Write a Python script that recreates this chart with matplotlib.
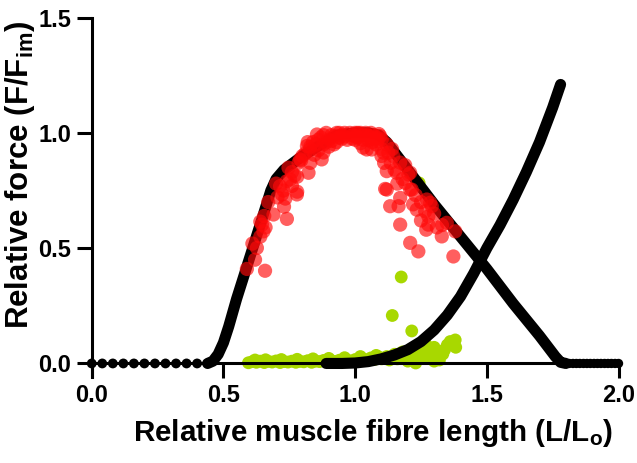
import matplotlib
matplotlib.use("Agg")
import matplotlib.pyplot as plt

plt.rcParams['font.family'] = ['Liberation Sans', 'DejaVu Sans']
plt.rcParams['font.weight'] = 'bold'
plt.rcParams['mathtext.fontset'] = 'custom'
plt.rcParams['mathtext.rm'] = 'Liberation Sans:bold'
plt.rcParams['mathtext.it'] = 'Liberation Sans:bold'
plt.rcParams['mathtext.bf'] = 'Liberation Sans:bold'

# ---- data ----
# active force-length curve (dense dots drawn as thick line)
active_x = [0.44, 0.46, 0.48, 0.50, 0.52, 0.55, 0.60, 0.65, 0.68, 0.70, 0.73, 0.80,
            0.87, 0.93, 1.00, 1.05, 1.09, 1.12, 1.20, 1.30, 1.40, 1.50, 1.60, 1.70,
            1.76, 1.78, 1.80]
active_y = [0.0, 0.01, 0.04, 0.09, 0.16, 0.28, 0.46, 0.64, 0.75, 0.80, 0.84, 0.90,
            0.95, 0.99, 1.00, 1.00, 0.99, 0.96, 0.84, 0.69, 0.55, 0.41, 0.26, 0.12,
            0.03, 0.005, 0.0]
# sparse dots on the flat parts
flat_left_x = [0.0, 0.04, 0.08, 0.12, 0.16, 0.20, 0.24, 0.28, 0.32, 0.36, 0.40, 0.44]
flat_right_x = [1.80, 1.813, 1.827, 1.84, 1.853, 1.867, 1.88, 1.893, 1.907, 1.92,
                1.933, 1.947, 1.96, 1.973, 1.987, 2.0]
# passive force-length curve
passive_x = [0.89, 0.95, 1.00, 1.05, 1.10, 1.15, 1.20, 1.25, 1.30, 1.35, 1.40, 1.45,
             1.50, 1.55, 1.60, 1.65, 1.70, 1.75, 1.78]
passive_y = [0.0, 0.0, 0.002, 0.008, 0.02, 0.037, 0.06, 0.095, 0.145, 0.21, 0.29, 0.39,
             0.50, 0.60, 0.71, 0.83, 0.96, 1.11, 1.21]

# red (active) measurements
red_x = [0.589, 0.658, 0.627, 0.652, 0.646, 0.655, 0.690, 0.741, 0.640, 0.660,
         0.715, 0.728, 0.779, 0.753, 0.747, 0.785, 0.823, 0.722, 0.735, 0.760,
         0.770, 0.740, 0.795, 0.780, 0.791, 0.829, 0.873, 0.855, 0.817, 0.840,
         0.810, 0.845,
         0.87, 0.88, 0.89, 0.90, 0.91, 0.92, 0.93, 0.94, 0.95, 0.96, 0.97, 0.98,
         0.99, 1.00, 1.01, 1.02, 1.03, 1.04, 1.05, 1.06, 1.07, 0.93, 1.02, 1.031,
         1.063, 1.044, 0.96, 1.00, 1.08, 1.09, 0.90, 1.08, 0.99,
         1.095, 1.108, 1.120, 1.114, 1.133, 1.165, 1.171, 1.209, 1.240, 1.171,
         1.145, 1.171, 1.158, 1.209, 1.234, 1.272, 1.278, 1.278, 1.329, 1.348,
         1.380, 1.373, 1.209, 1.120, 1.190, 1.215, 1.202, 1.126, 1.101, 1.266,
         1.285, 1.291, 1.135, 1.150, 1.180, 1.230, 1.250, 1.300, 1.190, 1.120,
         1.100, 1.140,
         0.82, 0.83, 0.85, 0.86, 0.88, 0.89, 0.91, 0.92, 0.94, 0.95, 1.00, 1.01,
         1.03, 1.045, 1.055, 1.065, 1.075, 1.085, 0.86, 0.88, 0.80, 0.83, 0.76,
         0.78, 0.70, 0.705, 0.73, 0.67, 0.62, 0.61, 0.64,
         1.10, 1.11, 1.16, 1.25, 1.31, 1.33, 1.22, 1.27]
red_y = [0.410, 0.402, 0.501, 0.573, 0.602, 0.640, 0.646, 0.627, 0.615, 0.590,
         0.769, 0.750, 0.733, 0.798, 0.849, 0.870, 0.827, 0.733, 0.715, 0.770,
         0.815, 0.790, 0.880, 0.745, 0.885, 0.928, 0.885, 0.993, 0.943, 0.960,
         0.910, 0.905,
         0.98, 0.95, 1.00, 0.97, 0.99, 0.95, 1.00, 0.98, 0.99, 1.00, 0.97, 1.00,
         0.99, 1.00, 0.98, 1.00, 0.99, 1.00, 0.97, 1.00, 0.99, 0.96, 0.955, 0.936,
         0.928, 0.928, 0.985, 0.985, 0.98, 0.995, 0.94, 0.95, 0.975,
         0.986, 0.914, 0.834, 0.757, 0.682, 0.682, 0.602, 0.523, 0.486, 0.718,
         0.899, 0.871, 0.827, 0.754, 0.667, 0.711, 0.638, 0.602, 0.551, 0.610,
         0.573, 0.464, 0.827, 0.754, 0.783, 0.754, 0.820, 0.914, 0.972, 0.660,
         0.697, 0.682, 0.870, 0.840, 0.800, 0.730, 0.700, 0.650, 0.860, 0.950,
         0.930, 0.930,
         0.96, 0.94, 0.95, 0.97, 0.99, 0.96, 0.965, 0.985, 1.00, 0.975, 0.97, 1.00,
         0.97, 0.99, 0.985, 0.96, 0.975, 0.965, 0.925, 0.915, 0.90, 0.87, 0.83,
         0.81, 0.78, 0.72, 0.68, 0.70, 0.45, 0.52, 0.55,
         0.90, 0.87, 0.78, 0.62, 0.59, 0.60, 0.69, 0.58]

# green (passive) measurements
green_x = [0.595, 0.61, 0.625, 0.64, 0.655, 0.67, 0.685, 0.70, 0.715, 0.73, 0.745,
           0.76, 0.775, 0.79, 0.805, 0.82, 0.835, 0.85, 0.865, 0.88, 0.895, 0.91,
           0.925, 0.94, 0.955, 0.97, 0.985, 1.0, 1.015, 1.03, 1.045, 1.06, 1.075,
           1.09,
           0.62, 0.66, 0.72, 0.78, 0.84, 0.90, 0.96, 1.02, 1.08,
           1.10, 1.12, 1.13, 1.15, 1.16, 1.18, 1.19, 1.20, 1.21, 1.22, 1.23, 1.24,
           1.25, 1.26, 1.27, 1.28, 1.285, 1.29, 1.30, 1.31, 1.333, 1.34, 1.35,
           1.361, 1.38, 1.382, 1.37, 1.32, 1.30,
           1.243, 1.175, 1.141, 1.215]
green_y = [0.003, 0.008, 0.005, 0.01, 0.004, 0.009, 0.006, 0.011, 0.004, 0.008, 0.006,
           0.01, 0.005, 0.009, 0.007, 0.012, 0.005, 0.01, 0.008, 0.013, 0.006, 0.012,
           0.009, 0.014, 0.007, 0.015, 0.01, 0.017, 0.012, 0.02, 0.015, 0.024, 0.018,
           0.028,
           0.015, 0.016, 0.017, 0.018, 0.02, 0.022, 0.025, 0.03, 0.035,
           0.02, 0.03, 0.015, 0.04, 0.02, 0.05, 0.03, 0.01, 0.06, 0.04, 0.002, 0.07,
           0.05, 0.03, 0.08, 0.06, 0.059, 0.02, 0.07, 0.04, 0.041, 0.06, 0.08,
           0.095, 0.102, 0.07, 0.09, 0.015, 0.01,
           0.783, 0.375, 0.208, 0.141]

x_ticks = [0.0, 0.5, 1.0, 1.5, 2.0]
y_ticks = [0.0, 0.5, 1.0, 1.5]

# ---- figure ----
fig = plt.figure(figsize=(6.37, 4.63), dpi=100)
ax = fig.add_axes([0.144, 0.215, 0.827, 0.747])

green_c = '#A8D800'
ax.scatter(green_x, green_y, s=85, color=green_c, edgecolors='none', zorder=2, clip_on=False)

ax.plot(active_x, active_y, color='black', lw=8, solid_capstyle='round',
        solid_joinstyle='round', zorder=3, clip_on=False)
ax.plot(passive_x, passive_y, color='black', lw=8, solid_capstyle='round',
        solid_joinstyle='round', zorder=3, clip_on=False)
ax.scatter(flat_left_x, [0.0] * len(flat_left_x), s=50, color='black',
           edgecolors='none', zorder=3, clip_on=False)
ax.scatter(flat_right_x, [0.0] * len(flat_right_x), s=45, color='black',
           edgecolors='none', zorder=3, clip_on=False)

ax.scatter(red_x, red_y, s=105, color='#FF0A0A', alpha=0.65, edgecolors='none',
           zorder=4, clip_on=False)

ax.set_xlim(0, 2.0)
ax.set_ylim(0, 1.5)
ax.set_xticks(x_ticks)
ax.set_yticks(y_ticks)
ax.set_xticklabels([f'{v:.1f}' for v in x_ticks])
ax.set_yticklabels([f'{v:.1f}' for v in y_ticks])

for side in ['top', 'right']:
    ax.spines[side].set_visible(False)
for side in ['left', 'bottom']:
    ax.spines[side].set_linewidth(2.2)
ax.spines['left'].set_bounds(-0.06, 1.5)
ax.tick_params(axis='both', which='major', direction='out', length=11, width=2.2,
               labelsize=17, pad=4)

ax.set_xlabel(r'Relative muscle fibre length (L/L$_{\mathrm{o}}$)', fontsize=21.3,
              fontweight='bold')
ax.xaxis.set_label_coords(0.534, -0.155)
ax.set_ylabel(r'Relative force (F/F$_{\mathrm{im}}$)', fontsize=22.5,
              fontweight='bold')
ax.yaxis.set_label_coords(-0.104, 0.546)

fig.savefig('out.png', dpi=100)
